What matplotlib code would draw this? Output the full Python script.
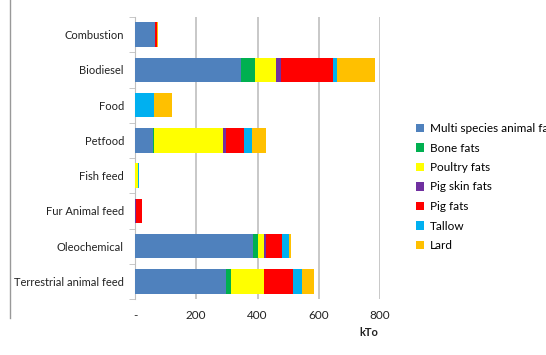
import numpy as np
import matplotlib.pyplot as plt
from matplotlib.lines import Line2D

plt.rcParams['font.family'] = ['Lato', 'DejaVu Sans']

# categories, top to bottom
categories = ['Combustion', 'Biodiesel', 'Food', 'Petfood', 'Fish feed',
              'Fur Animal feed', 'Oleochemical', 'Terrestrial animal feed']

series_names = ['Multi species animal fats', 'Bone fats', 'Poultry fats',
                'Pig skin fats', 'Pig fats', 'Tallow', 'Lard']

# values in kTo per category (same order as categories)
multi_species = [64, 345, 0, 58, 0, 0, 385, 296]
bone_fats     = [0, 46, 0, 3, 0, 0, 16, 19]
poultry_fats  = [0, 70, 0, 227, 9, 0, 19, 105]
pig_skin_fats = [0, 17, 0, 10, 0, 4, 9, 0]
pig_fats      = [7, 170, 0, 57, 0, 18, 52, 97]
tallow        = [0, 13, 62, 26, 5, 0, 21, 27]
lard          = [5, 124, 60, 46, 0, 0, 6, 40]

series = [multi_species, bone_fats, poultry_fats, pig_skin_fats,
          pig_fats, tallow, lard]
colors = ['#4F81BD', '#00B050', '#FFFF00', '#7030A0', '#FF0000', '#00B0F0', '#FFC000']

fig = plt.figure(figsize=(5.46, 3.55), dpi=100)
ax = fig.add_axes([135 / 546, 1 - 299 / 355, 245 / 546, 282 / 355])

y = np.arange(len(categories))
left = np.zeros(len(categories))
for name, vals, col in zip(series_names, series, colors):
    vals = np.array(vals, dtype=float)
    ax.barh(y, vals, left=left, height=0.7, color=col, label=name, zorder=3)
    left += vals

ax.set_xlim(0, 800)
ax.set_ylim(len(categories) - 0.5, -0.5)
ax.set_xticks([0, 200, 400, 600, 800])
ax.set_xticklabels(['-', '200', '400', '600', '800'])
ax.set_yticks(y)
ax.set_yticklabels(categories)
ax.set_yticks(np.arange(-0.5, len(categories), 1), minor=True)

ax.grid(axis='x', color='#BFBFBF', linewidth=1.2, zorder=0)
for s in ['top', 'right', 'bottom']:
    ax.spines[s].set_visible(False)
ax.spines['left'].set_color('#BFBFBF')
ax.tick_params(axis='y', which='major', length=0, pad=8, labelsize=8, labelcolor='#222222')
ax.tick_params(axis='y', which='minor', length=4, color='#BFBFBF')
ax.tick_params(axis='x', length=0, pad=8, labelsize=8.5, labelcolor='#222222')

fig.text(378 / 546, 1 - 333 / 355, 'kTo', ha='right', va='center',
         fontsize=8, fontweight='bold', color='#222222')

handles, labels = ax.get_legend_handles_labels()
fig.legend(handles, labels, loc='upper left', bbox_to_anchor=(416 / 546, 1 - 123 / 355),
           frameon=False, fontsize=8.5, handlelength=0.7, handleheight=0.7,
           handletextpad=0.45, labelspacing=0.72, borderaxespad=0, borderpad=0)

# chart border on the left
fig.add_artist(Line2D([10 / 546, 10 / 546], [1 - 318 / 355, 1.0],
                      transform=fig.transFigure, color='#999999', linewidth=1))

fig.savefig('out.png', dpi=100)
